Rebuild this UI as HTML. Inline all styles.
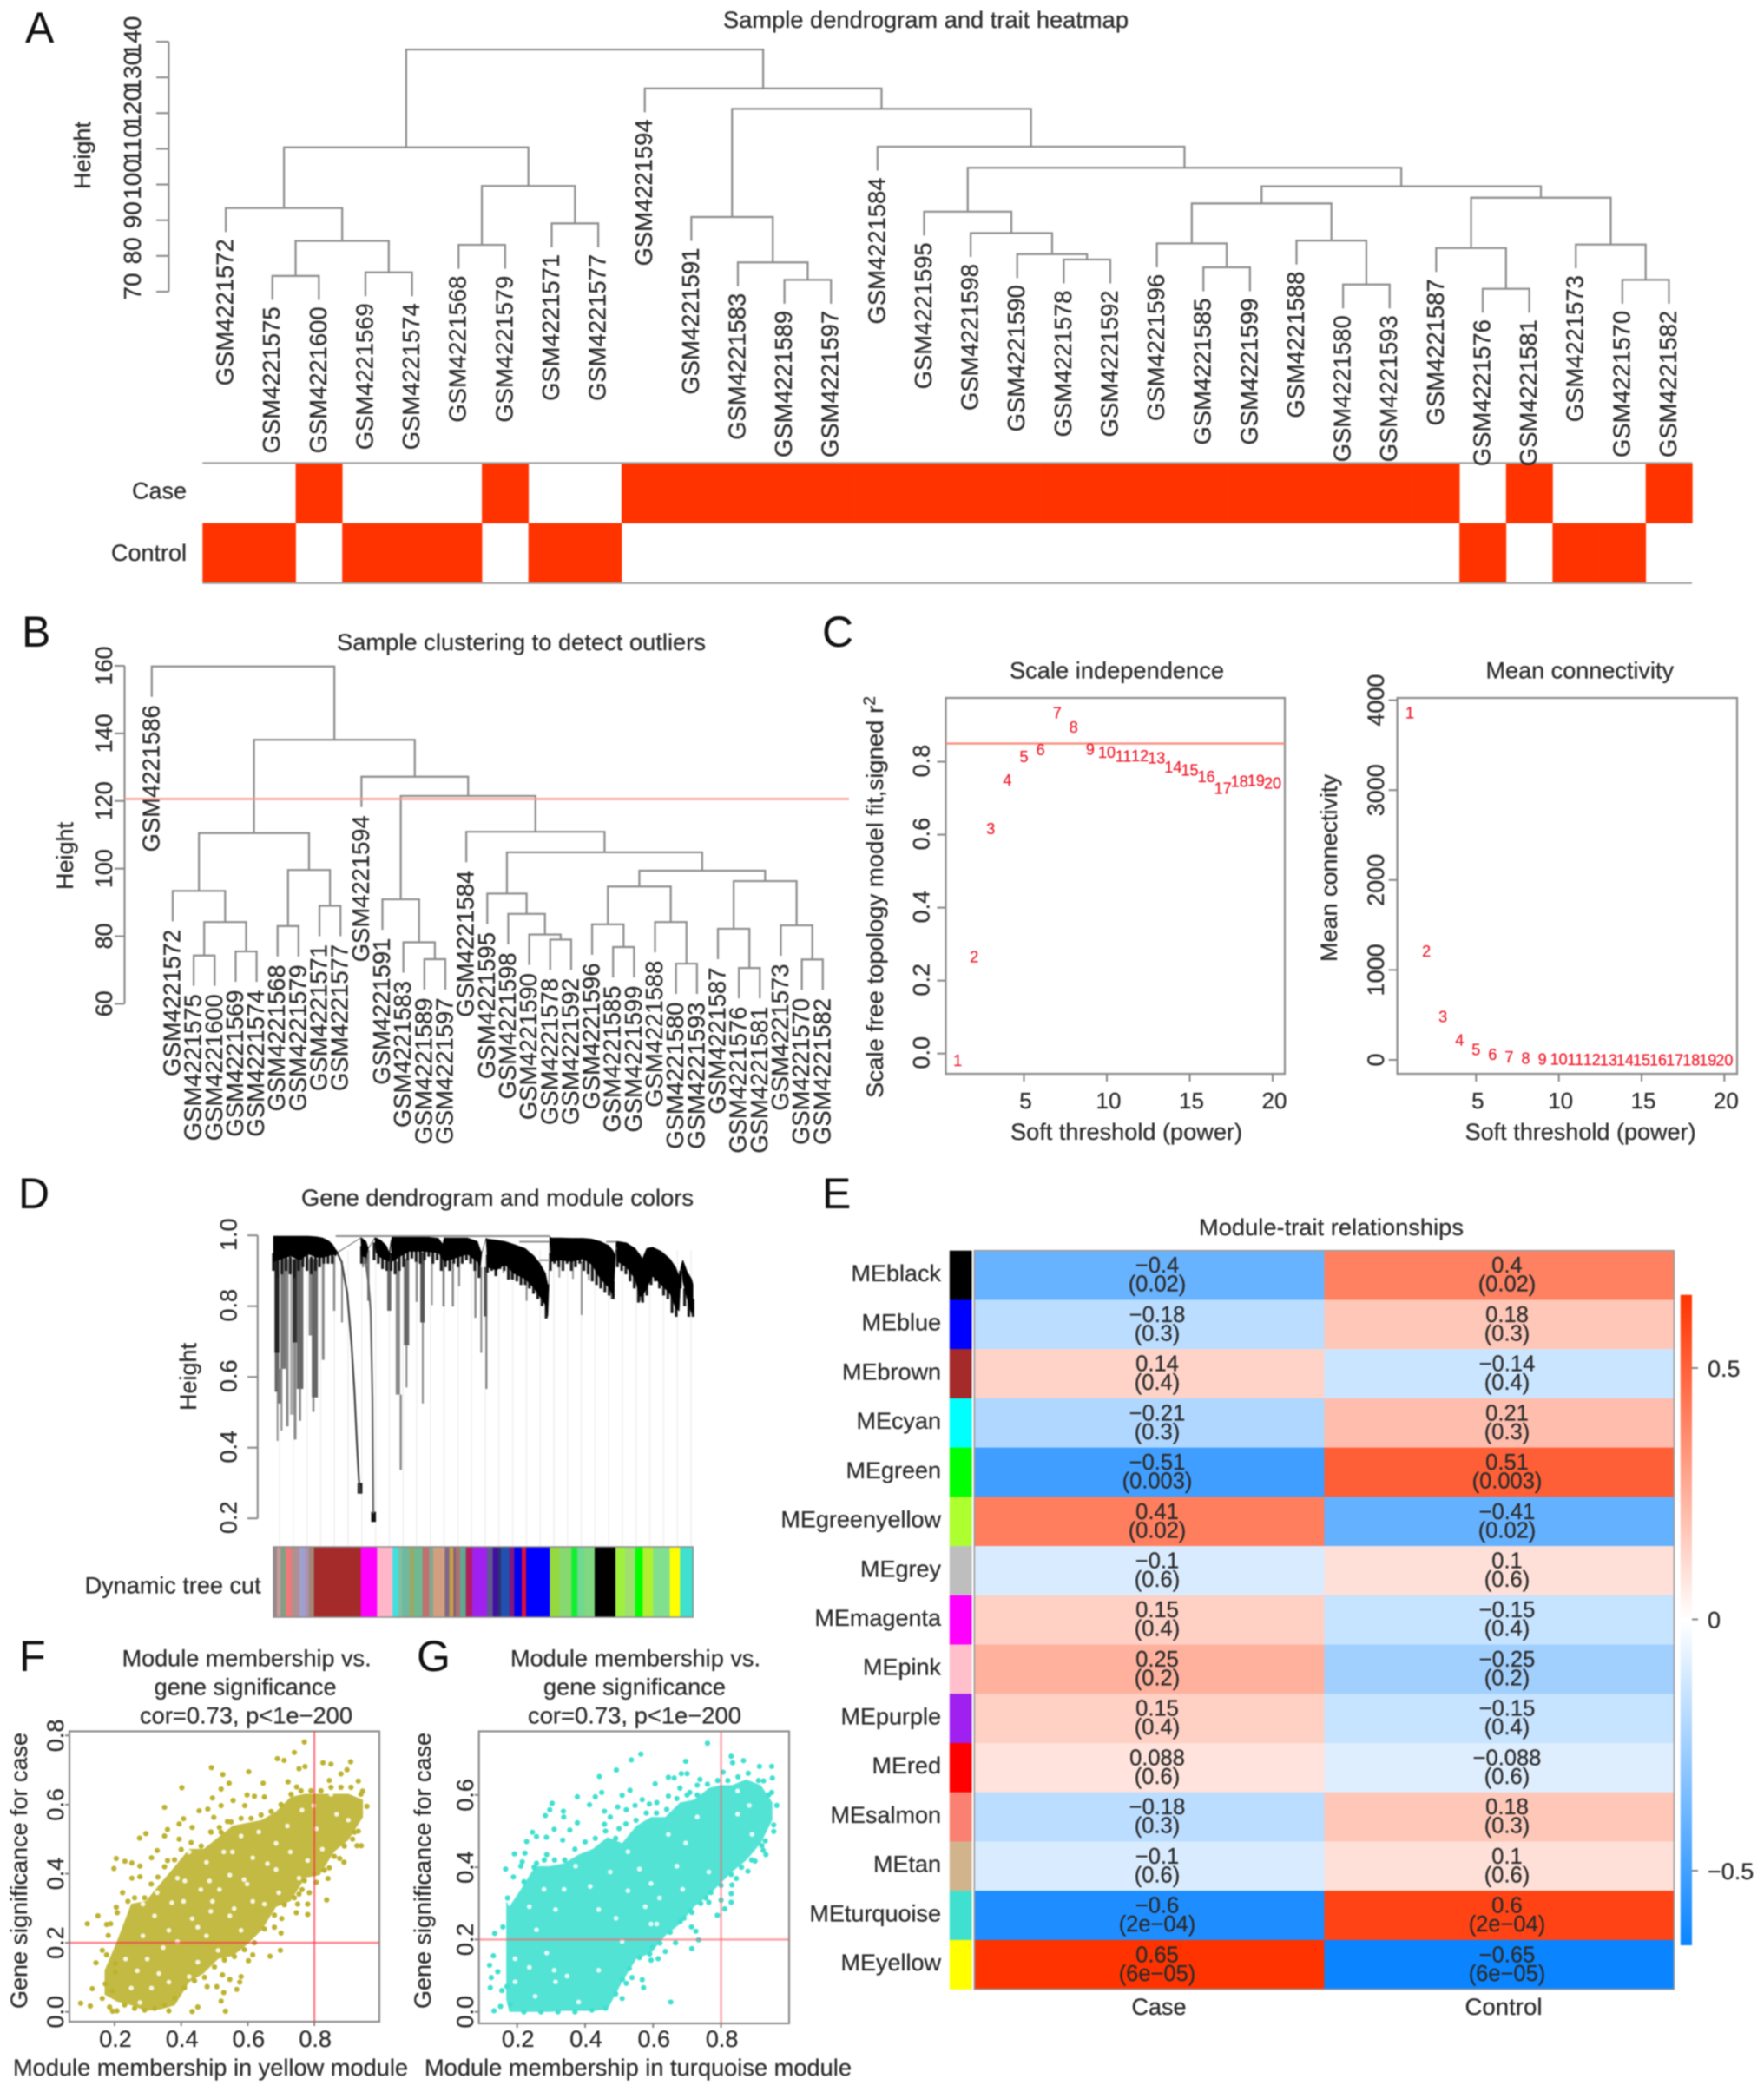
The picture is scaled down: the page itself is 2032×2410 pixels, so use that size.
<!DOCTYPE html>
<html lang="en">
<head>
<meta charset="utf-8">
<title>WGCNA multi-panel figure</title>
<style>
html,body{margin:0;padding:0;background:#fff;}
svg{display:block;filter:blur(0.7px);}
text{font-family:"Liberation Sans",sans-serif;fill:#2b2b2b;font-size:27px;stroke:#2b2b2b;stroke-width:0.25px;}
.letter{font-size:50px;fill:#111;stroke:none;}
</style>
</head>
<body>
<svg id="figure" xmlns="http://www.w3.org/2000/svg" width="2032" height="2410" viewBox="0 0 2032 2410">
<defs>
<linearGradient id="cbGrad" x1="0" y1="1" x2="0" y2="0">
<stop offset="0" stop-color="#0a84ff"/><stop offset="0.5" stop-color="#ffffff"/><stop offset="1" stop-color="#ff3300"/>
</linearGradient>
</defs>
<rect x="0" y="0" width="2032" height="2410" fill="#fff"/>

<text class="letter" x="29" y="49">A</text>
<text class="letter" x="25" y="745">B</text>
<text class="letter" x="947" y="745">C</text>
<text class="letter" x="21" y="1392">D</text>
<text class="letter" x="947" y="1392">E</text>
<text class="letter" x="22" y="1925">F</text>
<text class="letter" x="480" y="1925">G</text>

<text x="833" y="32" textLength="467" lengthAdjust="spacingAndGlyphs">Sample dendrogram and trait heatmap</text>
<text x="104" y="179" text-anchor="middle" transform="rotate(-90 104 179)">Height</text>
<text x="215" y="574.5" text-anchor="end">Case</text>
<text x="215" y="646" text-anchor="end">Control</text>

<text x="388" y="749" textLength="425" lengthAdjust="spacingAndGlyphs">Sample clustering to detect outliers</text>
<text x="84" y="986" text-anchor="middle" transform="rotate(-90 84 986)">Height</text>

<text x="1163" y="781.6" textLength="247" lengthAdjust="spacingAndGlyphs">Scale independence</text>
<text x="1164" y="1313" textLength="267" lengthAdjust="spacingAndGlyphs">Soft threshold (power)</text>
<text x="1017" y="1033.5" text-anchor="middle" textLength="463" lengthAdjust="spacingAndGlyphs" transform="rotate(-90 1017 1033.5)">Scale free topology model fit,signed r<tspan dy="-9" font-size="19">2</tspan></text>
<text x="1711.5" y="781.6" textLength="216.5" lengthAdjust="spacingAndGlyphs">Mean connectivity</text>
<text x="1687.6" y="1313" textLength="266" lengthAdjust="spacingAndGlyphs">Soft threshold (power)</text>
<text x="1540" y="1000" text-anchor="middle" textLength="216" lengthAdjust="spacingAndGlyphs" transform="rotate(-90 1540 1000)">Mean connectivity</text>

<text x="347" y="1389" textLength="452" lengthAdjust="spacingAndGlyphs">Gene dendrogram and module colors</text>
<text x="226" y="1586" text-anchor="middle" transform="rotate(-90 226 1586)">Height</text>
<text x="97.6" y="1835.5" textLength="203" lengthAdjust="spacingAndGlyphs">Dynamic tree cut</text>

<text x="1381" y="1423" textLength="305" lengthAdjust="spacingAndGlyphs">Module-trait relationships</text>
<text x="1335" y="2321" text-anchor="middle">Case</text>
<text x="1732" y="2321" text-anchor="middle" textLength="89" lengthAdjust="spacingAndGlyphs">Control</text>

<text x="140.6" y="1919.5" textLength="287" lengthAdjust="spacingAndGlyphs">Module membership vs.</text>
<text x="177.6" y="1952.5" textLength="210" lengthAdjust="spacingAndGlyphs">gene significance</text>
<text x="161" y="1985.5" textLength="245" lengthAdjust="spacingAndGlyphs">cor=0.73, p&lt;1e−200</text>
<text x="15" y="2391" textLength="455" lengthAdjust="spacingAndGlyphs">Module membership in yellow module</text>
<text x="31" y="2155" text-anchor="middle" textLength="318" lengthAdjust="spacingAndGlyphs" transform="rotate(-90 31 2155)">Gene significance for case</text>

<text x="588" y="1919.5" textLength="288" lengthAdjust="spacingAndGlyphs">Module membership vs.</text>
<text x="626" y="1952.5" textLength="210" lengthAdjust="spacingAndGlyphs">gene significance</text>
<text x="608" y="1985.5" textLength="246" lengthAdjust="spacingAndGlyphs">cor=0.73, p&lt;1e−200</text>
<text x="489" y="2391" textLength="492" lengthAdjust="spacingAndGlyphs">Module membership in turquoise module</text>
<text x="496" y="2155" text-anchor="middle" textLength="318" lengthAdjust="spacingAndGlyphs" transform="rotate(-90 496 2155)">Gene significance for case</text>
<g id="marks"></g>
</svg>
<script>
/* ---------- Panel A: sample dendrogram + trait heatmap ---------- */
const leafSamplesA = ["GSM4221572","GSM4221575","GSM4221600","GSM4221569","GSM4221574","GSM4221568","GSM4221579","GSM4221571","GSM4221577","GSM4221594","GSM4221591","GSM4221583","GSM4221589","GSM4221597","GSM4221584","GSM4221595","GSM4221598","GSM4221590","GSM4221578","GSM4221592","GSM4221596","GSM4221585","GSM4221599","GSM4221588","GSM4221580","GSM4221593","GSM4221587","GSM4221576","GSM4221581","GSM4221573","GSM4221570","GSM4221582"];
const mergeLeftA = [-2,-4,1,-1,-6,-8,5,4,-13,-12,-11,-19,-18,-17,-16,-22,-21,-25,-24,17,-28,-27,-31,-30,22,20,15,-15,11,-10,8];
const mergeRightA = [-3,-5,2,3,-7,-9,6,7,-14,9,10,-20,12,13,14,-23,16,-26,18,19,-29,21,-32,23,24,25,26,27,28,29,30];
const mergeHeightA = [74.4,75.4,84.2,93.4,83.1,89.1,99.6,110.4,73.3,78.2,90.9,79,80.5,86.4,92.4,76.8,83.5,72,84.3,94.7,70.8,82.2,73.3,83.2,96.3,99.5,104.7,110.6,121.2,126.9,137.8];
const heightTicksA = [70,80,90,100,110,120,130,140];
const traitCase = [0,0,1,0,0,0,1,0,0,1,1,1,1,1,1,1,1,1,1,1,1,1,1,1,1,1,1,0,1,0,0,1];
const traitControl = [1,1,0,1,1,1,0,1,1,0,0,0,0,0,0,0,0,0,0,0,0,0,0,0,0,0,0,1,0,1,1,0];

/* ---------- Panel B: outlier clustering ---------- */
const leafSamplesB = ["GSM4221586","GSM4221572","GSM4221575","GSM4221600","GSM4221569","GSM4221574","GSM4221568","GSM4221579","GSM4221571","GSM4221577","GSM4221594","GSM4221591","GSM4221583","GSM4221589","GSM4221597","GSM4221584","GSM4221595","GSM4221598","GSM4221590","GSM4221578","GSM4221592","GSM4221596","GSM4221585","GSM4221599","GSM4221588","GSM4221580","GSM4221593","GSM4221587","GSM4221576","GSM4221581","GSM4221573","GSM4221570","GSM4221582"];
const mergeLeftB = [-3,-5,1,-2,-7,-9,5,4,-14,-13,-12,-20,-19,-18,-17,-23,-22,-26,-25,17,-29,-28,-32,-31,22,20,15,-16,11,-11,8,-1];
const mergeRightB = [-4,-6,2,3,-8,-10,6,7,-15,9,10,-21,12,13,14,-24,16,-27,18,19,-30,21,-33,23,24,25,26,27,28,29,30,31];
const mergeHeightB = [74.3,75.5,84.2,93.4,83,89,99.6,110.5,73.2,78.2,90.9,79,80.5,86.6,92.6,76.8,83.5,71.9,84.2,94.7,70.6,82.2,73.1,83.2,96.3,99.4,104.8,110.9,121.5,127.2,138.1,159.8];
const heightTicksB = [60,80,100,120,140,160];
const outlierCutHeight = [120.6];

/* ---------- Panel C: soft threshold ---------- */
const softPowers = [1,2,3,4,5,6,7,8,9,10,11,12,13,14,15,16,17,18,19,20];
const scaleFit = [-0.018,0.266,0.617,0.75,0.814,0.834,0.935,0.895,0.835,0.826,0.815,0.817,0.811,0.786,0.778,0.76,0.727,0.747,0.749,0.742];
const meanConnectivity = [3862,1209,484,220,118,63,35,20,12,8,5,3,2,2,1,1,1,1,1,1];
const scaleFitCut = [0.85];
const powerTicks = [5,10,15,20];
const scaleFitTicks = ["0.0","0.2","0.4","0.6","0.8"];
const connectivityTicks = [0,1000,2000,3000,4000];

/* ---------- Panel D: gene dendrogram ---------- */
const massPos = [0,2.07,4.14,6.21,8.28,10.34,11.72,13.1,14.14,14.83,15.17,20.83,21.03,22.07,22.62,24.14,24.48,25.52,26.9,27.59,28,28.28,30.34,32.41,35.86,39.31,40.34,40.69,42.76,46.21,48.62,49.31,49.66,50.69,51.03,53.1,55.17,57.24,60,62.07,63.45,64.83,65.38,65.66,65.86,66.21,68.28,71.03,73.79,75.86,77.93,80,81.03,81.52,81.72,82.07,84.14,86.21,87.24,87.93,88.97,90.34,92.41,94.48,95.86,96.69,97.24,97.59,98.62,99.66,100];
const massTop = [0.998,0.998,0.998,0.998,0.998,0.996,0.993,0.985,0.974,0.96,0.951,0.993,0.993,0.983,0.963,0.993,0.993,0.987,0.971,0.951,0.983,0.996,0.996,0.996,0.996,0.992,0.975,0.993,0.993,0.993,0.983,0.959,0.951,0.992,0.99,0.987,0.983,0.975,0.963,0.942,0.922,0.893,0.861,0.861,0.996,0.993,0.993,0.992,0.992,0.99,0.983,0.971,0.955,0.942,0.983,0.983,0.979,0.963,0.947,0.934,0.963,0.967,0.955,0.934,0.91,0.885,0.918,0.93,0.897,0.877,0.861];
const massBottom = [0.926,0.934,0.942,0.93,0.947,0.938,0.938,0.942,0.947,0.942,0.951,0.993,0.942,0.938,0.963,0.993,0.951,0.938,0.93,0.926,0.983,0.926,0.942,0.955,0.955,0.951,0.934,0.926,0.934,0.947,0.926,0.91,0.951,0.992,0.91,0.902,0.918,0.893,0.877,0.852,0.828,0.803,0.771,0.861,0.996,0.926,0.93,0.926,0.934,0.918,0.877,0.852,0.828,0.942,0.983,0.926,0.91,0.877,0.828,0.828,0.852,0.885,0.861,0.836,0.795,0.787,0.918,0.869,0.82,0.779,0.787];
const fringeLow = [0.90,0.88,0.89,0.90,0.89,0.88,0.90,0.91,0.90,0.89,0.90,0.91,0.92,0.92,0.92,1,1,1,1,1,1,0.92,0.92,1,0.93,0.92,0.905,0.90,0.90,0.89,0.90,0.91,0.93,0.935,0.925,0.92,0.93,0.94,0.92,0.93,0.90,0.91,0.90,0.92,0.91,0.92,0.93,0.92,0.90,0.88,1,0.895,0.90,0.885,0.905,0.90,0.875,0.875,0.87,0.86,0.86,0.85,0.835,0.82,0.80,0.765,0.90,0.92,0.91,0.90,0.92,0.90,0.91,0.92,0.90,0.89,0.87,0.86,0.85,0.84,0.83,0.82,0.91,0.90,0.89,0.87,0.85,0.81,0.81,0.83,0.86,0.87,0.85,0.83,0.82,0.78,0.77,0.85,0.80,0.77,0.77];
const spikePos = [0.83,0.83,0.97,1.38,1.93,2.41,3.31,4.48,5.17,5.17,6.34,6.34,8.83,9.86,9.52,11.86,14.48,16.34,21.38,22.62,27.59,29.66,30.34,31.72,31.72,34.14,35.52,35.59,37.79,40.55,42.76,44.28,48.14,49.52,50.55,50.76,54.83,56.55,60.34,68.14,71.38,73.45,75.17,80.69,87.45,20.62,23.86];
const spikeTop = [0.934,0.668,0.558,0.623,0.934,0.934,0.934,0.934,0.934,0.697,0.934,0.566,0.934,0.934,0.542,0.942,0.942,0.926,0.942,0.959,0.926,0.926,0.55,0.934,0.689,0.951,0.951,0.754,0.951,0.934,0.934,0.942,0.926,0.91,0.91,0.771,0.91,0.91,0.885,0.934,0.934,0.926,0.934,0.869,0.869,0.3,0.2185];
const spikeLow = [0.668,0.558,0.419,0.525,0.448,0.623,0.46,0.493,0.697,0.423,0.566,0.476,0.717,0.542,0.501,0.648,0.787,0.754,0.91,0.815,0.787,0.55,0.337,0.689,0.57,0.812,0.754,0.525,0.803,0.799,0.799,0.856,0.767,0.668,0.771,0.566,0.893,0.877,0.815,0.881,0.877,0.775,0.873,0.82,0.815,0.27,0.19];
const spikeBranchSize = [5.5,5,1.8,3.5,2,7,3,5,5.5,3,7.5,2.5,4,7,2.5,3,2.5,2,2.5,2.5,4.5,5,2.4,6,2,2.5,5,2,2,2.5,2.5,2,2.5,2,4,2,2,2,2,2,2,2,2,3,3,5.5,5.5];
const spikeShade = ["#222","#666","#888","#777","#888","#777","#888","#aaa","#333","#888","#666","#888","#888","#666","#888","#888","#888","#888","#888","#777","#666","#888","#888","#666","#888","#888","#555","#888","#999","#777","#888","#888","#888","#888","#555","#777","#999","#999","#888","#999","#999","#888","#999","#777","#777","#111","#111"];
const tailOnePos = [14.83,16.21,17.59,18.62,19.31,19.86,20.34,20.69];
const tailOneHeight = [0.959,0.926,0.836,0.689,0.558,0.419,0.313,0.272];
const tailTwoPos = [21.72,22.62,23.17,23.59,23.79];
const tailTwoHeight = [0.951,0.869,0.787,0.542,0.214];
const linkStart = [14.83,58.6,63.4,79.3];
const linkEnd = [65.86,65.86,65.86,81.7];
const linkHeight = [0.998,0.982,0.93,0.982];
const geneHeightTicks = ["0.2","0.4","0.6","0.8","1.0"];
const stripColors = ["#9a8a8a","#c99aa0","#7fa085","#f07878","#b09090","#a0a0d0","#b090b0","#a08878","#a52a2a","#ff00ff","#ffb6c8","#40e0e0","#80c0a0","#70b8a0","#a0a860","#70b890","#c07070","#80a890","#d2a080","#806888","#c8a040","#806080","#b07070","#60a890","#b02060","#a020f0","#605890","#4010a0","#303070","#2050b0","#801880","#0000f0","#e01030","#0000ff","#96d840","#88d870","#10f030","#70d890","#80d880","#000000","#a0f040","#a0e070","#00ff00","#b0f030","#80e090","#ffff00","#40e0d0"];
const stripGeneCounts = [12,13,17,20,28,20,12,18,162,56,54,20,13,25,15,30,23,14,40,16,14,8,15,20,22,51,20,18,10,29,17,26,15,82,33,42,20,25,35,72,33,35,26,36,58,35,45];

/* ---------- Panel E: module-trait heatmap ---------- */
const moduleNames = ["MEblack","MEblue","MEbrown","MEcyan","MEgreen","MEgreenyellow","MEgrey","MEmagenta","MEpink","MEpurple","MEred","MEsalmon","MEtan","MEturquoise","MEyellow"];
const moduleSwatches = ["#000000","#0000ff","#a52a2a","#00ffff","#00ff00","#adff2f","#bebebe","#ff00ff","#ffc0cb","#a020f0","#ff0000","#fa8072","#d2b48c","#40e0d0","#ffff00"];
const corrCase = [-0.4,-0.18,0.14,-0.21,-0.51,0.41,-0.1,0.15,0.25,0.15,0.088,-0.18,-0.1,-0.6,0.65];
const corrControl = [0.4,0.18,-0.14,0.21,0.51,-0.41,0.1,-0.15,-0.25,-0.15,-0.088,0.18,0.1,0.6,-0.65];
const pValues = ["0.02","0.3","0.4","0.3","0.003","0.02","0.6","0.4","0.2","0.4","0.6","0.3","0.6","2e−04","6e−05"];
const colorbarTicks = [-0.5,0,0.5];

/* ---------- Panel F: yellow module scatter ---------- */
const coreXF = [0.17,0.207,0.25,0.294,0.337,0.381,0.424,0.468,0.511,0.555,0.598,0.642,0.685,0.729,0.772,0.816,0.859,0.902,0.946];
const coreHiF = [0.12,0.204,0.313,0.321,0.371,0.421,0.472,0.472,0.505,0.539,0.547,0.555,0.58,0.622,0.631,0.631,0.631,0.631,0.614];
const coreLoF = [0.05,0.03,0.019,0.003,0.007,0.019,0.086,0.112,0.153,0.162,0.195,0.237,0.304,0.321,0.388,0.396,0.463,0.497,0.564];
const memberF = [0.098,0.127,0.133,0.163,0.144,0.118,0.15,0.176,0.188,0.181,0.205,0.208,0.224,0.198,0.205,0.231,0.252,0.276,0.252,0.276,0.275,0.294,0.311,0.328,0.359,0.394,0.407,0.35,0.402,0.491,0.525,0.544,0.52,0.603,0.646,0.689,0.709,0.74,0.77,0.754,0.772,0.826,0.85,0.909,0.88,0.898,0.932,0.845,0.721,0.747,0.598,0.62,0.65,0.494,0.556,0.591,0.454,0.48,0.52,0.498,0.539,0.359,0.35,0.394,0.433,0.489,0.515,0.958,0.945,0.932,0.941,0.928,0.915,0.889,0.876,0.845,0.841,0.837,0.806,0.78,0.78,0.75,0.746,0.7,0.698,0.667,0.702,0.68,0.615,0.602,0.58,0.576,0.567,0.546,0.524,0.507,0.478,0.528,0.52,0.533,0.433,0.45,0.363,0.185,0.194,0.207,0.172,0.194,0.163,0.176,0.202,0.202,0.763,0.785,0.754,0.24,0.26,0.29,0.31,0.33,0.35,0.38,0.4,0.43,0.46,0.49,0.52,0.55,0.58,0.61,0.64,0.67,0.7,0.73,0.76,0.79,0.82,0.85,0.88,0.91,0.94,0.23,0.26,0.29,0.32,0.35,0.38,0.41,0.44,0.47,0.5,0.53,0.56,0.59,0.62,0.65,0.68,0.71,0.74,0.77,0.8,0.83,0.86,0.89,0.92];
const signifF = [0.025,0.017,0.067,0.039,0.142,0.255,0.278,0.253,0.255,0.221,0.303,0.287,0.345,0.415,0.444,0.436,0.431,0.422,0.387,0.391,0.503,0.516,0.446,0.467,0.438,0.544,0.559,0.592,0.649,0.707,0.687,0.662,0.645,0.695,0.662,0.733,0.728,0.751,0.781,0.704,0.71,0.721,0.717,0.724,0.689,0.701,0.668,0.67,0.666,0.651,0.628,0.624,0.622,0.619,0.612,0.597,0.582,0.587,0.597,0.563,0.551,0.528,0.509,0.5,0.534,0.521,0.534,0.595,0.639,0.523,0.481,0.481,0.5,0.433,0.444,0.417,0.386,0.324,0.375,0.312,0.282,0.312,0.287,0.228,0.178,0.161,0.27,0.245,0.165,0.148,0.102,0.086,0.065,0.094,0.107,0.073,0.073,0.056,0.031,0.002,0.001,0.014,0.003,0.014,0.002,0.003,0.081,0.06,0.178,0.165,0.14,0.115,0.354,0.345,0.341,0.32,0.33,0.33,0.37,0.39,0.42,0.44,0.47,0.49,0.48,0.52,0.52,0.55,0.56,0.56,0.57,0.58,0.6,0.63,0.64,0.64,0.64,0.65,0.65,0.65,0.63,0.02,0.01,0.005,0.01,0.02,0.04,0.07,0.09,0.1,0.13,0.15,0.16,0.18,0.2,0.24,0.28,0.31,0.33,0.38,0.4,0.41,0.45,0.48,0.52];
const gapMemberF = [0.485,0.589,0.515,0.559,0.489,0.411,0.389,0.298,0.333,0.372,0.285,0.433,0.45,0.554,0.476,0.615,0.685,0.754,0.763,0.719,0.85,0.58,0.424,0.32,0.268,0.233,0.346,0.389,0.45,0.511,0.58,0.65,0.693,0.615,0.546,0.494,0.363,0.328,0.407,0.476,0.546,0.285,0.311,0.25,0.363,0.424,0.276,0.685,0.806,0.867,0.902,0.824,0.633,0.528,0.459,0.598,0.659,0.78,0.728,0.798];
const gapSignifF = [0.379,0.383,0.354,0.299,0.291,0.379,0.387,0.153,0.111,0.316,0.22,0.27,0.245,0.463,0.433,0.446,0.412,0.387,0.584,0.538,0.63,0.509,0.463,0.278,0.119,0.153,0.186,0.203,0.144,0.178,0.236,0.312,0.345,0.32,0.396,0.32,0.236,0.345,0.32,0.22,0.278,0.312,0.069,0.069,0.086,0.102,0.027,0.488,0.53,0.572,0.555,0.471,0.521,0.463,0.354,0.37,0.429,0.438,0.463,0.597];
const memberTicksF = ["0.2","0.4","0.6","0.8"];
const signifTicksF = ["0.0","0.2","0.4","0.6","0.8"];
const memberCut = [0.8];
const signifCut = [0.2];

/* ---------- Panel G: turquoise module scatter ---------- */
const coreXG = [0.168,0.177,0.211,0.253,0.296,0.338,0.381,0.423,0.466,0.509,0.551,0.594,0.636,0.679,0.721,0.764,0.798,0.832,0.874,0.917,0.951];
const coreHiG = [0.307,0.291,0.339,0.403,0.403,0.411,0.435,0.451,0.483,0.467,0.515,0.539,0.539,0.579,0.587,0.619,0.627,0.627,0.643,0.627,0.579];
const coreLoG = [0.035,0,0,0,0,0.003,0.003,0.003,0.007,0.083,0.147,0.163,0.211,0.243,0.291,0.323,0.355,0.387,0.419,0.467,0.531];
const memberG = [0.76,0.564,0.536,0.492,0.442,0.696,0.83,0.834,0.866,0.913,0.949,0.951,0.925,0.806,0.645,0.662,0.7,0.683,0.606,0.738,0.532,0.509,0.449,0.43,0.377,0.413,0.303,0.296,0.283,0.336,0.337,0.245,0.228,0.223,0.192,0.166,0.189,0.211,0.172,0.134,0.158,0.13,0.119,0.143,0.124,0.121,0.155,0.132,0.151,0.509,0.572,0.568,0.538,0.521,0.652,0.636,0.594,0.615,0.598,0.666,0.714,0.734,0.726,0.713,0.691,0.714,0.789,0.811,0.8,0.83,0.83,0.832,0.845,0.764,0.755,0.879,0.9,0.932,0.924,0.93,0.955,0.955,0.964,0.949,0.377,0.355,0.309,0.286,0.257,0.334,0.287,0.257,0.215,0.457,0.474,0.496,0.521,0.547,0.568,0.589,0.611,0.645,0.679,0.708,0.73,0.5,0.457,0.22,0.25,0.28,0.31,0.34,0.37,0.4,0.43,0.46,0.49,0.52,0.55,0.58,0.61,0.64,0.67,0.7,0.73,0.76,0.79,0.82,0.85,0.88,0.91,0.94,0.17,0.18,0.22,0.27,0.32,0.37,0.42,0.46,0.49,0.51,0.53,0.56,0.59,0.62,0.65,0.68,0.71,0.74,0.77,0.8,0.83,0.86,0.89,0.92];
const signifG = [0.743,0.713,0.697,0.669,0.651,0.693,0.707,0.689,0.695,0.679,0.679,0.647,0.639,0.663,0.649,0.647,0.659,0.659,0.631,0.643,0.613,0.599,0.607,0.595,0.595,0.573,0.577,0.559,0.543,0.555,0.539,0.497,0.471,0.439,0.437,0.395,0.373,0.403,0.315,0.217,0.235,0.155,0.129,0.111,0.095,0.067,0.059,0.003,0.015,0.037,0.067,0.089,0.095,0.079,0.027,0.167,0.143,0.147,0.179,0.191,0.175,0.199,0.223,0.235,0.259,0.275,0.267,0.285,0.309,0.303,0.327,0.351,0.369,0.303,0.315,0.389,0.417,0.435,0.447,0.473,0.499,0.517,0.571,0.607,0.523,0.503,0.505,0.483,0.485,0.475,0.435,0.411,0.415,0.555,0.539,0.567,0.559,0.571,0.587,0.575,0.579,0.597,0.619,0.607,0.627,0.507,0.519,0.36,0.4,0.42,0.42,0.42,0.45,0.47,0.48,0.5,0.48,0.52,0.53,0.55,0.55,0.56,0.59,0.6,0.6,0.63,0.64,0.64,0.65,0.66,0.64,0.6,0.07,0.02,0,0,0,0,0.005,0.01,0.05,0.09,0.12,0.15,0.16,0.19,0.22,0.25,0.28,0.3,0.33,0.35,0.38,0.4,0.42,0.46];
const gapMemberG = [0.287,0.309,0.236,0.257,0.313,0.415,0.526,0.619,0.687,0.594,0.56,0.474,0.372,0.279,0.236,0.338,0.44,0.491,0.594,0.67,0.696,0.645,0.764,0.849,0.883,0.891,0.849,0.73,0.526,0.423,0.44,0.381,0.313,0.253,0.194,0.347,0.509,0.194,0.611,0.577];
const gapSignifG = [0.163,0.115,0.123,0.227,0.283,0.347,0.335,0.315,0.339,0.355,0.395,0.387,0.403,0.339,0.291,0.339,0.283,0.259,0.243,0.403,0.467,0.491,0.387,0.611,0.571,0.491,0.547,0.539,0.443,0.467,0.115,0.027,0.083,0.043,0.083,0.099,0.195,0.147,0.243,0.291];
const memberTicksG = ["0.2","0.4","0.6","0.8"];
const signifTicksG = ["0.0","0.2","0.4","0.6"];

/* ---------- helpers ---------- */
const root = document.getElementById('marks');
const NS = 'http://www.w3.org/2000/svg';
function mk(tag, attrs, txt) {
  const el = document.createElementNS(NS, tag);
  for (const k in attrs) el.setAttribute(k, attrs[k]);
  if (txt !== undefined) el.textContent = txt;
  root.appendChild(el);
  return el;
}
function vText(x, y, txt, size) {
  return mk('text', {x: x, y: y, 'text-anchor': 'middle', transform: 'rotate(-90 ' + x + ' ' + y + ')', style: 'font-size:' + size + 'px'}, txt);
}
function hText(x, y, txt, size, anchor, fill) {
  return mk('text', {x: x, y: y, 'text-anchor': anchor || 'middle', style: 'font-size:' + size + 'px' + (fill ? ';fill:' + fill + ';stroke:' + fill : '')}, txt);
}
const AXIS = '#858585';
const fmtSigned = v => String(v).replace('-', '−');

/* ---------- dendrogram renderer ---------- */
function drawDendrogram(leaves, left, right, heights, xOf, yOf, hang, gap) {
  const pos = [];
  function childX(c) { return c < 0 ? xOf(-c - 1) : pos[c - 1]; }
  function childBottom(c, parentY) { return c < 0 ? parentY + hang : yOf(heights[c - 1]); }
  const leafEnd = [];
  heights.forEach((h, i) => {
    const y = yOf(h);
    const xl = childX(left[i]);
    const xr = childX(right[i]);
    pos[i] = (xl + xr) / 2;
    const yl = childBottom(left[i], y);
    const yr = childBottom(right[i], y);
    if (left[i] < 0) leafEnd[-left[i] - 1] = yl;
    if (right[i] < 0) leafEnd[-right[i] - 1] = yr;
    const link = mk('path', {d: 'M' + xl + ' ' + yl + 'V' + y + 'H' + xr + 'V' + yr, fill: 'none', stroke: '#8c8c8c', 'stroke-width': 2.2});
    
    
  });
  leaves.forEach((name, i) => {
    const bx = xOf(i) + 8.5;
    const by = leafEnd[i] + gap;
    const t = mk('text', {x: bx, y: by, 'text-anchor': 'end', transform: 'rotate(-90 ' + bx + ' ' + by + ')', style: 'font-size:27.4px'}, name);
    
    
  });
}

/* ---------- Panel A draw ---------- */
const xA = i => 233.3 + 53.625 * (i + 0.5);
const yA = h => 48 + (140 - h) * 4.114;
const cellXA = i => 233.3 + 53.625 * i;
[traitCase, traitControl].forEach((row, r) => {
  row.forEach((v, i) => {
    if (!v) return;
    const c = mk('rect', {x: cellXA(i), y: 533.4 + r * 69.2, width: 54, height: 69.4, fill: '#ff3300'});
    
    
  });
});
[533.4, 671.8].forEach(y => {
  const l = mk('line', {x1: 233.3, x2: 1949, y1: y, y2: y, stroke: '#9a9a9a', 'stroke-width': 2});
  
  
});
drawDendrogram(leafSamplesA, mergeLeftA, mergeRightA, mergeHeightA, xA, yA, 27.5, 8);
{
  const ax = mk('line', {x1: 194.4, x2: 194.4, y1: yA(140), y2: yA(70), stroke: AXIS, 'stroke-width': 2});
  
  
}
heightTicksA.forEach(v => {
  const tk = mk('line', {x1: 180, x2: 194.4, y1: yA(v), y2: yA(v), stroke: AXIS, 'stroke-width': 2});
  
  
  const t = vText(162, yA(v) - 6, String(v), 28);
  
  
});

/* ---------- Panel B draw ---------- */
const xB = i => 174.8 + 24.156 * i;
const yB = h => 767 + (160 - h) * 3.894;
drawDendrogram(leafSamplesB, mergeLeftB, mergeRightB, mergeHeightB, xB, yB, 35, 9.5);
{
  const ax = mk('line', {x1: 143.5, x2: 143.5, y1: yB(160), y2: yB(60), stroke: AXIS, 'stroke-width': 2});
  
  
}
heightTicksB.forEach(v => {
  const tk = mk('line', {x1: 132, x2: 143.5, y1: yB(v), y2: yB(v), stroke: AXIS, 'stroke-width': 2});
  
  
  const t = vText(129, yB(v), String(v), 27);
  
  
});
{
  const cut = mk('line', {x1: 143.5, x2: 978, y1: yB(outlierCutHeight[0]), y2: yB(outlierCutHeight[0]), stroke: '#f99d90', 'stroke-width': 2.8, opacity: 0.85});
  
  
}

/* ---------- Panel C draw ---------- */
function drawFrame(x1, y1, x2, y2, color) {
  const r = mk('rect', {x: x1, y: y1, width: x2 - x1, height: y2 - y1, fill: 'none', stroke: color, 'stroke-width': 2.2});
  
  
}
const xC1 = p => 1179.5 + (p - 5) * 19.1;
const yC1 = v => 1213.7 - v * 420.2;
const xC2 = p => 1700.3 + (p - 5) * 19.07;
const yC2 = v => 1221 - v * 0.1036;
drawFrame(1089.5, 804, 1480, 1237, '#8c8c8c');
drawFrame(1609.6, 804, 2001, 1237, '#8c8c8c');
{
  const cut = mk('line', {x1: 1089.5, x2: 1480, y1: yC1(scaleFitCut[0]), y2: yC1(scaleFitCut[0]), stroke: '#f58f80', 'stroke-width': 2.4});
  
  
}
powerTicks.forEach(p => {
  const a = mk('line', {x1: xC1(p), x2: xC1(p), y1: 1237, y2: 1246, stroke: AXIS, 'stroke-width': 2});
  
  
  const at = hText(xC1(p) + 2, 1277, String(p), 26);
  
  
  const b = mk('line', {x1: xC2(p), x2: xC2(p), y1: 1237, y2: 1246, stroke: AXIS, 'stroke-width': 2});
  
  
  const bt = hText(xC2(p) + 2, 1277, String(p), 26);
  
  
});
scaleFitTicks.forEach(s => {
  const v = parseFloat(s);
  const tk = mk('line', {x1: 1079.5, x2: 1089.5, y1: yC1(v), y2: yC1(v), stroke: AXIS, 'stroke-width': 2});
  
  
  const t = vText(1070.6, yC1(v) - 1, s, 27);
  
  
});
connectivityTicks.forEach(v => {
  const tk = mk('line', {x1: 1599.6, x2: 1609.6, y1: yC2(v), y2: yC2(v), stroke: AXIS, 'stroke-width': 2});
  
  
  const t = vText(1594, yC2(v), String(v), 27);
  
  
});
softPowers.forEach((p, i) => {
  const a = hText(xC1(p), yC1(scaleFit[i]) + 6.5, String(p), 18, 'middle', '#f01c2c');
  
  
  const b = hText(xC2(p), yC2(meanConnectivity[i]) + 6.5, String(p), 18, 'middle', '#f01c2c');
  
  
});

/* ---------- Panel D draw ---------- */
const xD = p => 315 + p * 4.833;
const yD = h => 1423.2 + (1 - h) * 407.5;
for (let g = 0; g < 31; g++) {
  const gl = mk('line', {x1: 322 + g * 15.8, x2: 322 + g * 15.8, y1: 1440, y2: 1781, stroke: '#efefef', 'stroke-width': 1.4});
  
  
}
spikePos.forEach((p, i) => {
  const s = mk('line', {x1: xD(p), x2: xD(p), y1: yD(spikeTop[i]), y2: yD(spikeLow[i]), stroke: spikeShade[i], 'stroke-width': spikeBranchSize[i]});
  
  
});
fringeLow.forEach((low, i) => {
  if (low >= 0.99) return;
  const f = mk('line', {x1: xD(i), x2: xD(i), y1: yD(low + 0.05), y2: yD(low), stroke: '#1a1a1a', 'stroke-width': 3.2});
  
  
});
{
  const t1 = mk('path', {d: tailOnePos.map((p, i) => (i ? 'L' : 'M') + xD(p) + ' ' + yD(tailOneHeight[i])).join(''), fill: 'none', stroke: '#444', 'stroke-width': 2.2});
  
  
  const t2 = mk('path', {d: tailTwoPos.map((p, i) => (i ? 'L' : 'M') + xD(p) + ' ' + yD(tailTwoHeight[i])).join(''), fill: 'none', stroke: '#666', 'stroke-width': 2.2});
  
  
  const top = massPos.map((p, i) => xD(p) + ' ' + yD(massTop[i]));
  const bot = massPos.map((p, i) => xD(p) + ' ' + yD(massBottom[i])).reverse();
  const m = mk('path', {d: 'M' + top.join('L') + 'L' + bot.join('L') + 'Z', fill: '#000', stroke: '#000', 'stroke-width': 0.6});
  
  
}
linkStart.forEach((p, i) => {
  const l = mk('line', {x1: xD(p), x2: xD(linkEnd[i]), y1: yD(linkHeight[i]), y2: yD(linkHeight[i]), stroke: '#8c8c8c', 'stroke-width': 2});
  
  
});
{
  const ax = mk('line', {x1: 296.8, x2: 296.8, y1: yD(1), y2: yD(0.2), stroke: AXIS, 'stroke-width': 2});
  
  
}
geneHeightTicks.forEach(s => {
  const v = parseFloat(s);
  const tk = mk('line', {x1: 285, x2: 296.8, y1: yD(v), y2: yD(v), stroke: AXIS, 'stroke-width': 2});
  
  
  const t = vText(272.6, yD(v) - 1, s, 27);
  
  
});
{
  const total = stripGeneCounts.reduce((a, b) => a + b, 0);
  let run = 0;
  stripGeneCounts.forEach((n, i) => {
    const sx = 315 + run / total * 483.3;
    const sw = n / total * 483.3;
    const seg = mk('rect', {x: sx, y: 1782, width: sw + 0.4, height: 81, fill: stripColors[i]});
    
    
    run += n;
  });
  const frame = mk('rect', {x: 315, y: 1782, width: 483.3, height: 81, fill: 'none', stroke: '#888', 'stroke-width': 1.4});
  
  
}

/* ---------- Panel E draw ---------- */
const rowY = i => 1440.7 + i * 56.73;
const colX = [1122.4, 1525.4];
const textX = [1333, 1736];
function corrColor(v) {
  const t = Math.min(1, Math.abs(v) / 0.65);
  const end = v < 0 ? [10, 132, 255] : [255, 51, 0];
  const c = end.map(e => Math.round(255 + (e - 255) * t));
  return 'rgb(' + c.join(',') + ')';
}
moduleNames.forEach((name, i) => {
  const sw = mk('rect', {x: 1093.8, y: rowY(i), width: 25.7, height: 57, fill: moduleSwatches[i]});
  
  
  const lb = hText(1084, rowY(i) + 28.4 + 6.8, name, 27, 'end');
  
  
  [corrCase[i], corrControl[i]].forEach((v, c) => {
    const cell = mk('rect', {x: colX[c], y: rowY(i), width: 403.4, height: 57, fill: corrColor(v)});
    
    
  });
});
moduleNames.forEach((name, i) => {
  [corrCase[i], corrControl[i]].forEach((v, c) => {
    const a = hText(textX[c], rowY(i) + 28.4 - 3, fmtSigned(v), 25.5);
    
    
    const b = hText(textX[c], rowY(i) + 28.4 + 18.5, '(' + pValues[i] + ')', 25.5);
    
    
  });
});
{
  const fr = mk('rect', {x: 1122.4, y: 1440.7, width: 806, height: 851, fill: 'none', stroke: '#9a9a9a', 'stroke-width': 1.6});
  
  
  const cb = mk('rect', {x: 1935.8, y: 1491.7, width: 13.2, height: 749.3, fill: 'url(#cbGrad)'});
  
  
}
const yCb = v => 1865.5 - v * 579;
colorbarTicks.forEach(v => {
  const tk = mk('line', {x1: 1949, x2: 1956, y1: yCb(v), y2: yCb(v), stroke: AXIS, 'stroke-width': 2});
  
  
  const t = hText(1967, yCb(v) + 10, fmtSigned(v), 27, 'start');
  
  
});

/* ---------- Panels F and G draw ---------- */
function drawCore(xs, hi, lo, xOf, yOf, color) {
  const up = xs.map((v, i) => xOf(v) + ' ' + yOf(hi[i]));
  const dn = xs.map((v, i) => xOf(v) + ' ' + yOf(lo[i])).reverse();
  const band = mk('path', {d: 'M' + up.join('L') + 'L' + dn.join('L') + 'Z', fill: color, opacity: 0.9});
  
  
}
function drawDots(xs, ys, xOf, yOf, color) {
  xs.forEach((v, i) => {
    const d = mk('circle', {cx: xOf(v), cy: yOf(ys[i]), r: 3.1, fill: color});
    
    
  });
}
function drawGaps(xs, ys, xOf, yOf) {
  xs.forEach((v, i) => {
    const d = mk('circle', {cx: xOf(v), cy: yOf(ys[i]), r: 2.8, fill: '#fff', opacity: 0.85});
    
    
  });
}
const xF = v => 132 + (v - 0.2) * 383.5;
const yF = v => 2317.7 - v * 398;
const xG = v => 595.7 + (v - 0.2) * 391.5;
const yG = v => 2317.7 - v * 416.5;
drawCore(coreXF, coreHiF, coreLoF, xF, yF, '#bdb22f');
drawGaps(gapMemberF, gapSignifF, xF, yF);
drawDots(memberF, signifF, xF, yF, '#bdb22f');
drawCore(coreXG, coreHiG, coreLoG, xG, yG, '#40e0d0');
drawGaps(gapMemberG, gapSignifG, xG, yG);
drawDots(memberG, signifG, xG, yG, '#40e0d0');
drawFrame(80, 1994.5, 437, 2329, '#8c8c8c');
drawFrame(551.7, 1994.5, 909, 2331, '#8c8c8c');
{
  const a = mk('line', {x1: xF(memberCut[0]), x2: xF(memberCut[0]), y1: 1994.5, y2: 2329, stroke: '#ff2a40', 'stroke-width': 2.4, opacity: 0.6});
  
  
  const b = mk('line', {x1: 80, x2: 437, y1: yF(signifCut[0]), y2: yF(signifCut[0]), stroke: '#ff2a40', 'stroke-width': 2.4, opacity: 0.6});
  
  
  const c = mk('line', {x1: xG(memberCut[0]), x2: xG(memberCut[0]), y1: 1994.5, y2: 2331, stroke: '#f8606a', 'stroke-width': 2.4, opacity: 0.6});
  
  
  const d = mk('line', {x1: 551.7, x2: 909, y1: yG(signifCut[0]), y2: yG(signifCut[0]), stroke: '#f8606a', 'stroke-width': 2.4, opacity: 0.6});
  
  
}
memberTicksF.forEach(s => {
  const v = parseFloat(s);
  const tk = mk('line', {x1: xF(v), x2: xF(v), y1: 2329, y2: 2334, stroke: AXIS, 'stroke-width': 2});
  
  
  const t = hText(xF(v) + 1, 2358, s, 27);
  
  
});
signifTicksF.forEach(s => {
  const v = parseFloat(s);
  const tk = mk('line', {x1: 75, x2: 80, y1: yF(v), y2: yF(v), stroke: AXIS, 'stroke-width': 2});
  
  
  const t = vText(73, yF(v), s, 27);
  
  
});
memberTicksG.forEach(s => {
  const v = parseFloat(s);
  const tk = mk('line', {x1: xG(v), x2: xG(v), y1: 2331, y2: 2336, stroke: AXIS, 'stroke-width': 2});
  
  
  const t = hText(xG(v) + 1, 2358, s, 27);
  
  
});
signifTicksG.forEach(s => {
  const v = parseFloat(s);
  const tk = mk('line', {x1: 546.7, x2: 551.7, y1: yG(v), y2: yG(v), stroke: AXIS, 'stroke-width': 2});
  
  
  const t = vText(545, yG(v), s, 27);
  
  
});
</script>
</body>
</html>
